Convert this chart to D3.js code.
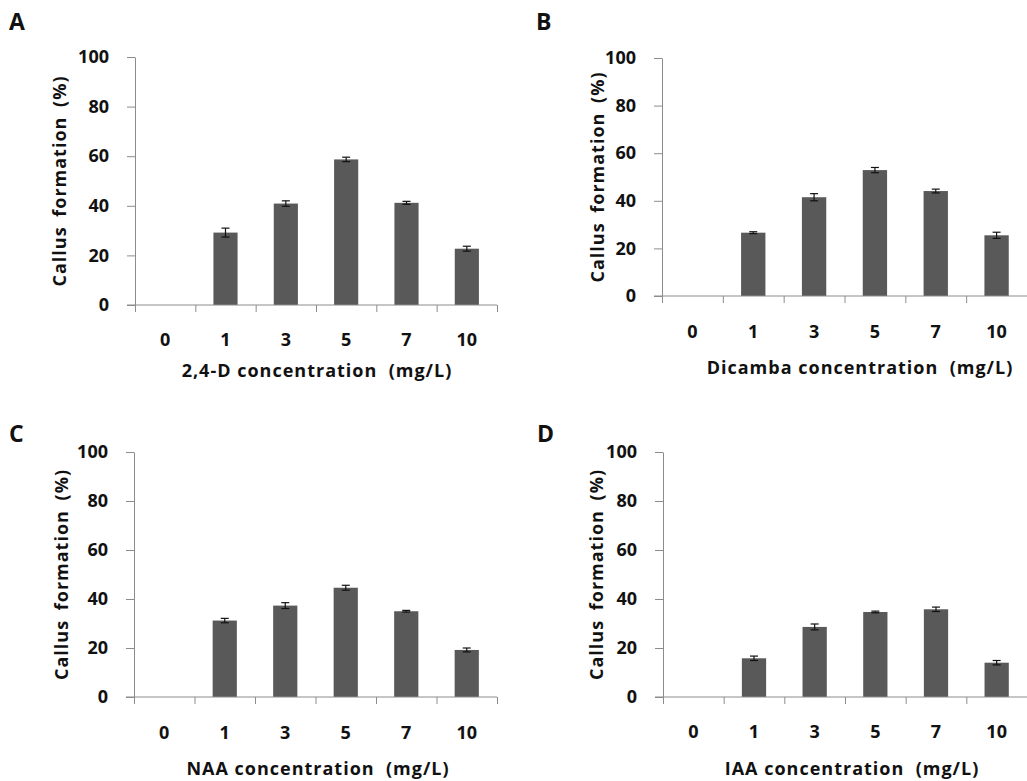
<!DOCTYPE html>
<meta charset="utf-8">
<script src="https://d3js.org/d3.v7.min.js"></script>
<style>
  body { margin: 0; background: #fff; }
  text { font-family: "Open Sans", "Noto Sans", sans-serif; font-weight: bold; fill: #111; }
</style>
<div id="chart"></div>
<script>
  // data
  const categories = ["0", "1", "3", "5", "7", "10"]
  const yTicks = [0, 20, 40, 60, 80, 100]

  const valuesA = [0, 29.2, 40.9, 58.7, 41.2, 22.7]
  const errorsA = [0, 1.8, 1.1, 0.9, 0.6, 1.0]
  const valuesB = [0, 26.6, 41.5, 52.9, 44.1, 25.5]
  const errorsB = [0, 0.4, 1.5, 1.1, 0.8, 1.3]
  const valuesC = [0, 31.2, 37.3, 44.6, 35.0, 19.2]
  const errorsC = [0, 0.9, 1.2, 1.0, 0.35, 0.8]
  const valuesD = [0, 15.8, 28.6, 34.7, 35.8, 14.0]
  const errorsD = [0, 0.9, 1.2, 0.35, 0.9, 0.9]

  const yTitle = "Callus formation (%)"

  // panel layout (pixels)
  const panels = [
    {letter: "A", xTitle: "2,4-D concentration\u00a0\u00a0(mg/L)", values: valuesA, errors: errorsA,
     left: 135, right: 497, top: 57, bottom: 305, letterX: 9, letterY: 30, tickY: 346, titleY: 377, titleX: 317, yTitleX: 60},
    {letter: "B", xTitle: "Dicamba concentration\u00a0\u00a0(mg/L)", values: valuesB, errors: errorsB,
     left: 662, right: 1027, top: 58, bottom: 296, letterX: 536, letterY: 30, tickY: 338, titleY: 374, titleX: 860, yTitleX: 598},
    {letter: "C", xTitle: "NAA concentration\u00a0\u00a0(mg/L)", values: valuesC, errors: errorsC,
     left: 134, right: 497, top: 452, bottom: 697, letterX: 9, letterY: 442, tickY: 739, titleY: 775, titleX: 318, yTitleX: 62},
    {letter: "D", xTitle: "IAA concentration\u00a0\u00a0(mg/L)", values: valuesD, errors: errorsD,
     left: 663, right: 1027, top: 452, bottom: 697, letterX: 537, letterY: 442, tickY: 738, titleY: 775, titleX: 852, yTitleX: 597}
  ]

  const svg = d3.select("#chart")
    .append("svg")
      .attr("width", 1027)
      .attr("height", 781)

  const axisColor = "#8c8c8c"

  panels.forEach(p => {
    const g = svg.append("g")

    const x = d3.scaleBand()
      .domain(categories)
      .range([p.left, p.right])
      .paddingInner(0.6)
      .paddingOuter(0.3)
    // boundaries between categories, for the tick marks
    const xb = d3.scaleLinear()
      .domain([0, categories.length])
      .range([p.left, p.right])
    const y = d3.scaleLinear()
      .domain([0, 100])
      .range([p.bottom, p.top])

    // y axis
    const ya = g.append("g")
      .attr("transform", `translate(${p.left},0)`)
      .call(d3.axisLeft(y).tickValues(yTicks).tickSize(8).tickSizeOuter(0).tickPadding(18))
    ya.select(".domain").attr("stroke", axisColor)
    ya.selectAll(".tick line").attr("stroke", axisColor)
    ya.selectAll(".tick text")
      .style("font-size", "18px")
      .attr("fill", "#111")

    // bars
    g.selectAll("rect")
      .data(p.values)
      .join("rect")
        .attr("x", (d, i) => x(categories[i]))
        .attr("y", d => y(d))
        .attr("width", x.bandwidth())
        .attr("height", d => p.bottom - y(d))
        .attr("fill", "#595959")

    // error bars
    const eb = g.selectAll(".err")
      .data(p.values.map((d, i) => ({v: d, e: p.errors[i], c: categories[i]})).filter(d => d.e > 0))
      .join("g")
        .attr("class", "err")
        .attr("stroke", "#111")
        .attr("stroke-width", 1.2)
    eb.append("line")
      .attr("x1", d => x(d.c) + x.bandwidth() / 2)
      .attr("x2", d => x(d.c) + x.bandwidth() / 2)
      .attr("y1", d => y(d.v - d.e))
      .attr("y2", d => y(d.v + d.e))
    ;[-1, 1].forEach(s => {
      eb.append("line")
        .attr("x1", d => x(d.c) + x.bandwidth() / 2 - 4)
        .attr("x2", d => x(d.c) + x.bandwidth() / 2 + 4)
        .attr("y1", d => y(d.v + s * d.e))
        .attr("y2", d => y(d.v + s * d.e))
    })

    // x axis: line + boundary ticks
    const xa = g.append("g")
      .attr("transform", `translate(0,${p.bottom})`)
      .call(d3.axisBottom(xb).tickValues(d3.range(categories.length + 1)).tickSize(7).tickSizeOuter(0).tickFormat(""))
    xa.select(".domain").remove()
    xa.selectAll(".tick line").attr("stroke", axisColor)
    g.append("line")
      .attr("x1", p.left - 8)
      .attr("x2", p.right)
      .attr("y1", p.bottom)
      .attr("y2", p.bottom)
      .attr("stroke", axisColor)

    // category labels
    g.selectAll(".cat")
      .data(categories)
      .join("text")
        .attr("class", "cat")
        .attr("x", d => x(d) + x.bandwidth() / 2)
        .attr("y", p.tickY)
        .attr("text-anchor", "middle")
        .style("font-size", "18px")
        .text(d => d)

    // axis titles
    g.append("text")
      .attr("x", p.titleX)
      .attr("y", p.titleY)
      .attr("text-anchor", "middle")
      .style("font-size", "18px")
      .style("letter-spacing", "1px")
      .text(p.xTitle)
    g.append("text")
      .attr("transform", `translate(${p.yTitleX + 6},${(p.top + p.bottom) / 2}) rotate(-90)`)
      .attr("text-anchor", "middle")
      .style("font-size", "18px")
      .style("letter-spacing", "1px")
      .style("word-spacing", "4px")
      .text(yTitle)

    // panel letter
    g.append("text")
      .attr("x", p.letterX)
      .attr("y", p.letterY)
      .style("font-size", "23px")
      .text(p.letter)
  })
</script>
